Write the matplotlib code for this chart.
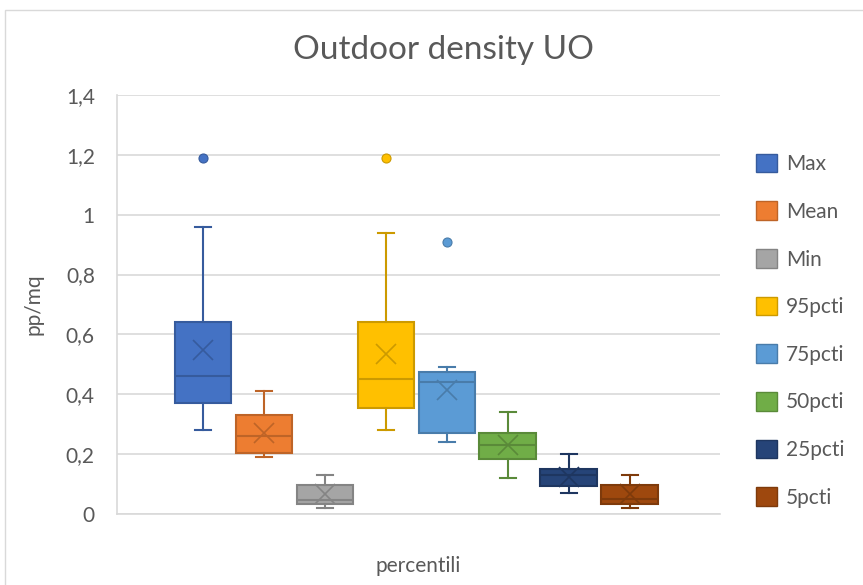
import matplotlib
matplotlib.use("Agg")
import matplotlib.pyplot as plt
from matplotlib.patches import Patch, Rectangle
import matplotlib.colors as mcolors

plt.rcParams['font.family'] = ['Lato', 'DejaVu Sans']

# ---- data ----
names = ["Max", "Mean", "Min", "95pcti", "75pcti", "50pcti", "25pcti", "5pcti"]
whis_lo = [0.28, 0.19, 0.02, 0.28, 0.24, 0.12, 0.07, 0.02]
q1 = [0.37, 0.205, 0.035, 0.355, 0.27, 0.185, 0.095, 0.035]
median = [0.46, 0.26, 0.048, 0.45, 0.44, 0.232, 0.13, 0.05]
q3 = [0.64, 0.33, 0.097, 0.64, 0.476, 0.27, 0.152, 0.096]
whis_hi = [0.96, 0.41, 0.13, 0.94, 0.49, 0.34, 0.20, 0.13]
means = [0.547, 0.27, 0.068, 0.535, 0.415, 0.229, 0.125, 0.068]
outliers = [[1.19], [], [], [1.19], [0.91], [], [], []]
colors = ["#4472C4", "#ED7D31", "#A5A5A5", "#FFC000", "#5B9BD5", "#70AD47", "#264478", "#9E480E"]
yticks = [0, 0.2, 0.4, 0.6, 0.8, 1.0, 1.2, 1.4]
ytick_labels = ["0", "0,2", "0,4", "0,6", "0,8", "1", "1,2", "1,4"]

text_col = "#595959"
grid_col = "#D9D9D9"

def darker(c, f=0.8):
    r, g, b = mcolors.to_rgb(c)
    return (r * f, g * f, b * f)

fig = plt.figure(figsize=(8.63, 5.85), dpi=100)
fig.patch.set_facecolor("white")
# outer chart border
fig.patches.append(Rectangle((5 / 863, -0.05), 1.2, 1 - 10 / 585 + 0.05,
                             transform=fig.transFigure, fill=False,
                             edgecolor="#D9D9D9", lw=1))

ax = fig.add_axes([117 / 863, 1 - 514 / 585, (720 - 117) / 863, (514 - 95) / 585])

for i, n in enumerate(names):
    st = dict(med=median[i], q1=q1[i], q3=q3[i], whislo=whis_lo[i], whishi=whis_hi[i],
              mean=means[i], fliers=outliers[i], label=n)
    c = colors[i]
    ec = darker(c)
    ax.bxp([st], positions=[i], widths=0.93, capwidths=0.27, patch_artist=True,
           showmeans=True, showfliers=True,
           boxprops=dict(facecolor=c, edgecolor=ec, linewidth=1.5),
           medianprops=dict(color=ec, linewidth=1.5),
           whiskerprops=dict(color=ec, linewidth=1.5),
           capprops=dict(color=ec, linewidth=1.5),
           meanprops=dict(marker='x', markeredgecolor=ec, markersize=14, markeredgewidth=1.2),
           flierprops=dict(marker='o', markerfacecolor=c, markeredgecolor=ec,
                           markersize=6.5, markeredgewidth=0.8),
           zorder=3)

ax.set_xlim(-1.41, 8.48)
ax.set_ylim(0, 1.4)
ax.set_yticks(yticks)
ax.set_yticklabels(ytick_labels)
ax.set_xticks([])
ax.yaxis.grid(True, color=grid_col, linewidth=1.2, zorder=0)
ax.set_axisbelow(True)
for s in ["top", "right"]:
    ax.spines[s].set_visible(False)
for s in ["left", "bottom"]:
    ax.spines[s].set_color(grid_col)
    ax.spines[s].set_linewidth(1.2)
ax.tick_params(axis='y', length=0, pad=16, labelsize=15, labelcolor=text_col)

ax.set_ylabel("pp/mq", fontsize=15, color=text_col, labelpad=16)
ax.set_xlabel("percentili", fontsize=15, color=text_col, labelpad=30)

fig.text(443 / 863, 1 - 50 / 585, "Outdoor density UO", fontsize=24, color=text_col,
         ha="center", va="center")

handles = [Patch(facecolor=c, edgecolor=darker(c), linewidth=1) for c in colors]
fig.legend(handles, names, loc="upper left", bbox_to_anchor=(737 / 863, 1 - 135 / 585),
           frameon=False, fontsize=15, labelcolor=text_col,
           handlelength=1.0, handleheight=1.0, handletextpad=0.45, labelspacing=1.305)

fig.savefig("out.png", dpi=100)
